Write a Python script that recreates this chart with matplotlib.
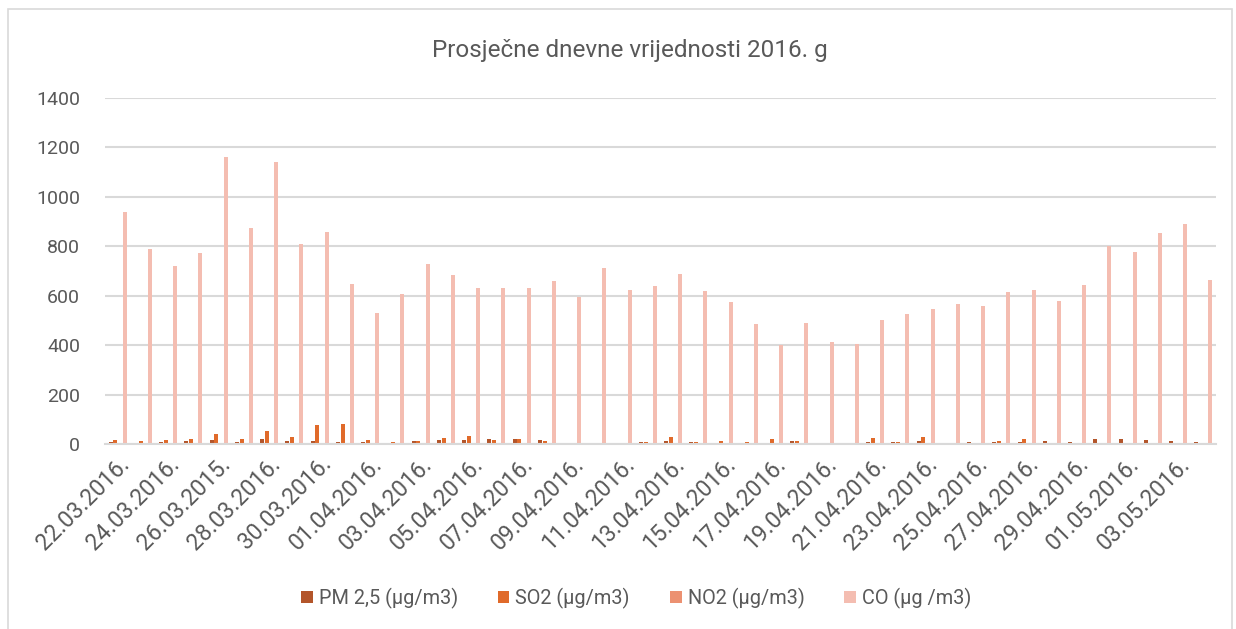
import numpy as np
import matplotlib
matplotlib.use("Agg")
import matplotlib.pyplot as plt
from matplotlib.patches import Rectangle

plt.rcParams['font.family'] = ['Roboto', 'DejaVu Sans']

# dates (every day, labels shown every second one) - typo 26.03.2015. kept as in original
dates = ["22.03.2016.", "23.03.2016.", "24.03.2016.", "25.03.2016.", "26.03.2015.",
         "27.03.2016.", "28.03.2016.", "29.03.2016.", "30.03.2016.", "31.03.2016.",
         "01.04.2016.", "02.04.2016.", "03.04.2016.", "04.04.2016.", "05.04.2016.",
         "06.04.2016.", "07.04.2016.", "08.04.2016.", "09.04.2016.", "10.04.2016.",
         "11.04.2016.", "12.04.2016.", "13.04.2016.", "14.04.2016.", "15.04.2016.",
         "16.04.2016.", "17.04.2016.", "18.04.2016.", "19.04.2016.", "20.04.2016.",
         "21.04.2016.", "22.04.2016.", "23.04.2016.", "24.04.2016.", "25.04.2016.",
         "26.04.2016.", "27.04.2016.", "28.04.2016.", "29.04.2016.", "30.04.2016.",
         "01.05.2016.", "02.05.2016.", "03.05.2016.", "04.05.2016."]

pm25 = [10, 5, 9, 12, 18, 9, 22, 11, 12, 8, 9,
        5, 13, 15, 18, 20, 20, 15, 5, 5, 5, 8,
        12, 9, 5, 4, 5, 11, 5, 5, 9, 9, 12,
        5, 7, 9, 9, 13, 8, 22, 20, 16, 13, 8]
so2 = [16, 13, 17, 19, 42, 20, 53, 30, 77, 82, 16,
       7, 13, 23, 34, 17, 20, 11, 2, 3, 2, 9,
       30, 9, 13, 7, 22, 12, 2, 1, 23, 7, 28,
       0, 0, 11, 22, 0, 0, 0, 0, 0, 0, 0]
no2 = [3, 2, 1, 4, 5, 2, 5, 3, 4, 5, 2,
       1, 2, 2, 2, 1, 1, 2, 1, 1, 1, 1,
       2, 1, 1, 1, 1, 1, 1, 1, 1, 1, 1,
       1, 0, 1, 1, 1, 0, 1, 0, 0, 1, 0]
co = [937, 787, 722, 771, 1160, 875, 1140, 811, 856, 646, 529,
      607, 728, 683, 632, 631, 630, 659, 593, 714, 623, 641,
      689, 620, 575, 485, 400, 491, 411, 404, 500, 525, 548,
      565, 560, 615, 623, 577, 642, 800, 777, 852, 891, 663]

series = [pm25, so2, no2, co]
names = ["PM 2,5 (µg/m3)", "SO2 (µg/m3)", "NO2 (µg/m3)", "CO (µg /m3)"]
colors = ["#B3552A", "#E06A2A", "#EC9171", "#F4BDB1"]

fig = plt.figure(figsize=(12.36, 6.29), dpi=100)
ax = fig.add_axes([105/1236, (629-444)/629, (1216-105)/1236, (444-98)/629])

x = np.arange(len(dates))
slot = 0.184
w = 0.16
for i, (vals, name, c) in enumerate(zip(series, names, colors)):
    ax.bar(x + (i - 1.5)*slot, vals, width=w, color=c, label=name, zorder=3)

ax.set_xlim(-0.5, len(dates) - 0.5)
ax.set_ylim(0, 1400)
ax.set_yticks(range(0, 1401, 200))
ax.grid(axis='y', color='#D9D9D9', linewidth=1.5, zorder=0)
for s in ['top', 'right', 'left']:
    ax.spines[s].set_visible(False)
ax.spines['bottom'].set_color('#D9D9D9')
ax.spines['bottom'].set_linewidth(1.5)
ax.spines['bottom'].set_zorder(4)

ax.set_xticks(x[::2])
ax.set_xticklabels(dates[::2], rotation=45, ha='right', va='top',
                   rotation_mode='anchor', fontsize=16.5, color='#595959')
ax.tick_params(axis='x', length=0, pad=6)
ax.tick_params(axis='y', length=0, pad=18, labelsize=14, labelcolor='#595959')

fig.text(0.51, 0.92, "Prosječne dnevne vrijednosti 2016. g", ha='center', va='center',
         fontsize=17.5, color='#595959')

ax.legend(loc='center', bbox_to_anchor=(0.478, -0.445), ncol=4, frameon=False,
          fontsize=14.3, labelcolor='#595959', handlelength=0.6, handleheight=0.6,
          columnspacing=2.0, handletextpad=0.3)

fig.patches.append(Rectangle((8/1236, -0.01), (1232-8)/1236, (629-9)/629 + 0.01,
                             transform=fig.transFigure, fill=False,
                             edgecolor='#D9D9D9', linewidth=1.2))

fig.savefig("out.png", dpi=100)
